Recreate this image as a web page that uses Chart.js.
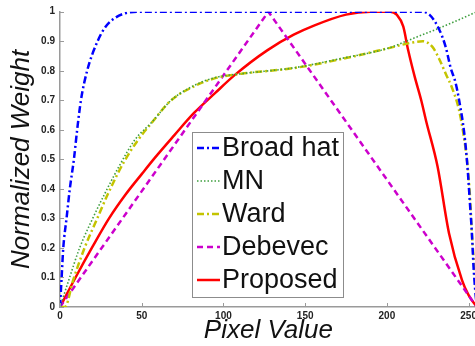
<!DOCTYPE html>
<html>
<head>
<meta charset="utf-8">
<script src="https://cdn.jsdelivr.net/npm/chart.js@4.4.1/dist/chart.umd.min.js"></script>
<style>
  html, body { margin: 0; padding: 0; background: #fff; overflow: hidden; }
  #wrap { position: relative; width: 480px; height: 346px; }
</style>
</head>
<body>
<div id="wrap"><canvas id="myChart"></canvas></div>
<script>
  'use strict'

  // values
  const seriesNames = ['Broad hat', 'MN', 'Ward', 'Debevec', 'Proposed']
  const xTickValues = [0, 50, 100, 150, 200, 250]

  const broadHatX = [0, 1, 2, 4, 6, 8.5, 10.5, 12.8, 16.6, 23, 28, 34, 40, 47, 220, 226, 232, 236, 239, 242, 244.2, 247.3, 249.3, 250.7, 252, 253, 254, 255]
  const broadHatY = [0, 0.1, 0.2, 0.3, 0.4, 0.5, 0.6, 0.7, 0.8, 0.9, 0.95, 0.98, 0.995, 1, 1, 0.99, 0.94, 0.88, 0.81, 0.76, 0.7, 0.59, 0.475, 0.36, 0.25, 0.137, 0.06, 0]

  const mnX = [0, 5, 12, 20, 27.5, 36, 45.8, 56, 68, 82, 95, 111, 143, 175, 200, 214, 230, 245, 255]
  const mnY = [0, 0.085, 0.2, 0.3, 0.385, 0.475, 0.566, 0.625, 0.7, 0.75, 0.777, 0.79, 0.81, 0.845, 0.875, 0.905, 0.94, 0.975, 1]

  const wardX = [0, 3, 8, 15.3, 22.5, 29.5, 39, 47.8, 56, 68, 82, 95, 111, 143, 175, 200, 215, 222, 228, 232, 236, 240, 244, 247, 249.5, 251, 252, 253.5, 255]
  const wardY = [0, 0, 0.09, 0.204, 0.296, 0.385, 0.49, 0.566, 0.623, 0.7, 0.747, 0.775, 0.79, 0.809, 0.843, 0.875, 0.895, 0.9, 0.88, 0.84, 0.79, 0.74, 0.67, 0.58, 0.47, 0.36, 0.25, 0.13, 0]

  const debevecX = [0, 127.5, 255]
  const debevecY = [0, 1, 0]

  const proposedX = [0, 10, 20, 30, 40, 50, 58, 70, 82, 95, 107, 127, 143, 155, 175, 190, 202, 206, 210, 213, 217, 221, 224, 231, 238, 246, 250, 255]
  const proposedY = [0, 0.105, 0.205, 0.3, 0.38, 0.45, 0.505, 0.582, 0.657, 0.725, 0.786, 0.87, 0.922, 0.952, 0.99, 1, 1, 0.99, 0.95, 0.87, 0.78, 0.7, 0.63, 0.476, 0.25, 0.09, 0.04, 0]

  const pts = (xs, ys) => xs.map((x, i) => ({ x: x, y: ys[i] }))

  const FONT = '"Liberation Sans", Arial, sans-serif'
  const AXIS_GREY = '#9a9a9a'

  // small inward tick marks + boxed legend like the matlab figure
  const figureExtras = {
    id: 'figureExtras',
    afterDatasetsDraw(chart) {
      const { ctx, chartArea, scales } = chart
      ctx.save()
      ctx.strokeStyle = AXIS_GREY
      ctx.lineWidth = 1
      ctx.setLineDash([])
      scales.x.ticks.forEach(t => {
        const px = Math.round(scales.x.getPixelForValue(t.value)) + 0.5
        ctx.beginPath()
        ctx.moveTo(px, chartArea.bottom)
        ctx.lineTo(px, chartArea.bottom - 4)
        ctx.stroke()
      })
      scales.y.ticks.forEach(t => {
        const py = Math.round(scales.y.getPixelForValue(t.value)) + 0.5
        ctx.beginPath()
        ctx.moveTo(chartArea.left, py)
        ctx.lineTo(chartArea.left + 4, py)
        ctx.stroke()
      })

      // legend
      const bx = 192.5, by = 132.5, bw = 151, bh = 165
      ctx.fillStyle = '#fff'
      ctx.fillRect(bx, by, bw, bh)
      ctx.strokeStyle = '#8c8c8c'
      ctx.lineWidth = 1
      ctx.strokeRect(bx, by, bw, bh)
      ctx.font = '27px ' + FONT
      ctx.textBaseline = 'middle'
      ctx.textAlign = 'left'
      chart.data.datasets.forEach((ds, i) => {
        const cy = 148 + i * 33
        ctx.save()
        ctx.strokeStyle = ds.borderColor
        ctx.lineWidth = ds.borderWidth
        ctx.setLineDash(ds.borderDash || [])
        ctx.beginPath()
        ctx.moveTo(197, cy)
        ctx.lineTo(220, cy)
        ctx.stroke()
        ctx.restore()
        ctx.fillStyle = '#111'
        ctx.fillText(ds.label, 222, cy + 1)
      })
      ctx.restore()
    }
  }

  const ctx = document.getElementById('myChart')
  // eslint-disable-next-line no-unused-vars
  const myChart = new Chart(ctx, {
    type: 'line',
    data: {
      datasets: [{
        label: seriesNames[0],
        data: pts(broadHatX, broadHatY),
        borderColor: '#0000ff',
        borderWidth: 2.5,
        borderDash: [7, 3, 2, 3]
      }, {
        label: seriesNames[1],
        data: pts(mnX, mnY),
        borderColor: '#3f9f3f',
        borderWidth: 1.6,
        borderDash: [1.5, 2]
      }, {
        label: seriesNames[2],
        data: pts(wardX, wardY),
        borderColor: '#c4c400',
        borderWidth: 2.5,
        borderDash: [7, 3, 2, 3]
      }, {
        label: seriesNames[3],
        data: pts(debevecX, debevecY),
        borderColor: '#cc00cc',
        borderWidth: 2.5,
        borderDash: [6, 4],
        cubicInterpolationMode: 'default',
        tension: 0
      }, {
        label: seriesNames[4],
        data: pts(proposedX, proposedY),
        borderColor: '#ff0000',
        borderWidth: 2.5
      }]
    },
    options: {
      responsive: true,
      maintainAspectRatio: false,
      animation: false,
      layout: { padding: { top: 11.7, right: 2.3, left: 0, bottom: 0 } },
      elements: {
        point: { radius: 0 },
        line: { cubicInterpolationMode: 'monotone', fill: false }
      },
      plugins: {
        legend: { display: false },
        tooltip: { enabled: false }
      },
      scales: {
        x: {
          type: 'linear',
          min: 0,
          max: 255,
          afterBuildTicks: s => { s.ticks = xTickValues.map(v => ({ value: v })) },
          afterFit: s => { s.height = 39 },
          grid: { display: false, drawTicks: false },
          border: { display: true, color: AXIS_GREY, width: 1.5 },
          ticks: {
            padding: 3,
            color: '#222',
            font: { family: FONT, size: 10, weight: 'bold' },
            maxRotation: 0
          },
          title: {
            display: true,
            text: 'Pixel Value',
            color: '#111',
            font: { family: FONT, size: 26, style: 'italic' },
            padding: { top: 0, bottom: 0 }
          }
        },
        y: {
          min: 0,
          max: 1,
          afterFit: s => { s.width = 60 },
          grid: { display: false, drawTicks: false },
          border: { display: true, color: AXIS_GREY, width: 1.5 },
          ticks: {
            stepSize: 0.1,
            padding: 5,
            color: '#222',
            font: { family: FONT, size: 10, weight: 'bold' },
            callback: v => Math.round(v * 10) / 10
          },
          title: {
            display: true,
            text: 'Normalized Weight',
            color: '#111',
            font: { family: FONT, size: 26, style: 'italic' },
            padding: { top: 6, bottom: 0 }
          }
        }
      }
    },
    plugins: [figureExtras]
  })
</script>
</body>
</html>
